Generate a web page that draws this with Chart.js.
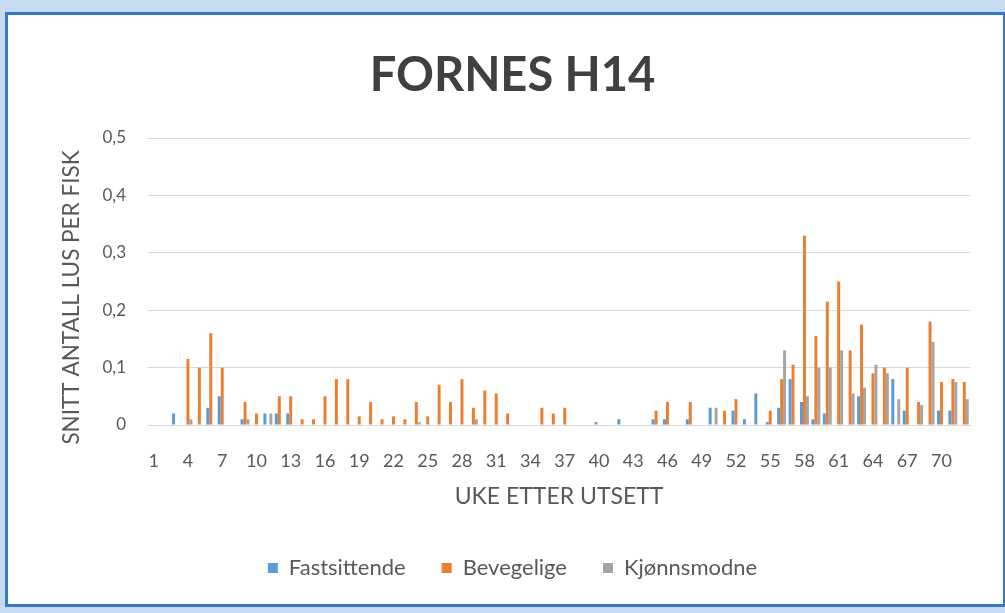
<!DOCTYPE html>
<html>
<head>
<meta charset="utf-8">
<script src="https://cdn.jsdelivr.net/npm/chart.js@4.4.1/dist/chart.umd.min.js"></script>
<style>
  html, body { margin: 0; padding: 0; width: 1005px; height: 613px; overflow: hidden; background: #c6daf0; }
  #frame { position: absolute; left: 5px; top: 12px; width: 1001px; height: 595px; border: 3px solid #3a77c2; background: #ffffff; box-sizing: border-box; }
  #wrap { position: absolute; left: 0; top: 0; width: 1005px; height: 613px; }
</style>
</head>
<body>
<div id="frame"></div>
<div id="wrap"><canvas id="c" width="1005" height="613"></canvas></div>
<script>
const weeks = [];
for (let w = 1; w <= 72; w++) weeks.push(String(w));

const fastsittende = [
  0, 0, 0.02, 0, 0, 0.03, 0.05, 0, 0.01, 0,
  0.02, 0.02, 0.02, 0, 0, 0, 0, 0, 0, 0,
  0, 0, 0, 0, 0, 0, 0, 0, 0, 0,
  0, 0, 0, 0, 0, 0, 0, 0, 0, 0.005,
  0, 0.01, 0, 0, 0.01, 0.01, 0, 0.01, 0, 0.03,
  0, 0.025, 0.01, 0.055, 0.005, 0.03, 0.08, 0.04, 0.01, 0.02,
  0, 0, 0.05, 0, 0, 0.08, 0.025, 0, 0, 0.025,
  0.025, 0
];
const bevegelige = [
  0, 0, 0, 0.115, 0.1, 0.16, 0.1, 0, 0.04, 0.02,
  0, 0.05, 0.05, 0.01, 0.01, 0.05, 0.08, 0.08, 0.015, 0.04,
  0.01, 0.015, 0.01, 0.04, 0.015, 0.07, 0.04, 0.08, 0.03, 0.06,
  0.055, 0.02, 0, 0, 0.03, 0.02, 0.03, 0, 0, 0,
  0, 0, 0, 0, 0.025, 0.04, 0, 0.04, 0, 0,
  0.025, 0.045, 0, 0, 0.025, 0.08, 0.105, 0.33, 0.155, 0.215,
  0.25, 0.13, 0.175, 0.09, 0.1, 0, 0.1, 0.04, 0.18, 0.075,
  0.08, 0.075
];
const kjonnsmodne = [
  0, 0, 0, 0.01, 0, 0, 0, 0, 0.01, 0,
  0.02, 0, 0, 0, 0, 0, 0, 0, 0, 0,
  0, 0, 0, 0.005, 0, 0, 0, 0, 0.01, 0,
  0, 0, 0, 0, 0, 0, 0, 0, 0, 0,
  0, 0, 0, 0, 0, 0, 0, 0, 0, 0.03,
  0, 0, 0, 0, 0, 0.13, 0, 0.05, 0.1, 0.1,
  0.13, 0.055, 0.065, 0.105, 0.09, 0.045, 0, 0.035, 0.145, 0,
  0.075, 0.045
];
const yTicks = [0, 0.1, 0.2, 0.3, 0.4, 0.5];
const yTitle = 'SNITT ANTALL LUS PER FISK';

const FONT = "Lato, 'Open Sans', sans-serif";
const TXT = '#595959';

const yTitlePlugin = {
  id: 'yTitle',
  afterDraw(chart) {
    const ctx = chart.ctx;
    const area = chart.chartArea;
    ctx.save();
    ctx.translate(72, (area.top + area.bottom) / 2 + 16);
    ctx.rotate(-Math.PI / 2);
    ctx.fillStyle = TXT;
    ctx.font = "22.5px " + FONT;
    ctx.textAlign = 'center';
    ctx.textBaseline = 'middle';
    ctx.fillText(yTitle, 0, 0);
    ctx.restore();
  }
};

new Chart(document.getElementById('c'), {
  type: 'bar',
  data: {
    labels: weeks,
    datasets: [
      { label: 'Fastsittende', data: fastsittende, backgroundColor: '#5B9BD5' },
      { label: 'Bevegelige', data: bevegelige, backgroundColor: '#ED7D31' },
      { label: 'Kjønnsmodne', data: kjonnsmodne, backgroundColor: '#A5A5A5' }
    ]
  },
  plugins: [yTitlePlugin],
  options: {
    responsive: false,
    animation: false,
    layout: { padding: { left: 55, right: 35, top: 24, bottom: 24 } },
    datasets: { bar: { categoryPercentage: 0.78, barPercentage: 1.0 } },
    plugins: {
      title: {
        display: true,
        text: 'FORNES H14',
        color: '#404040',
        font: { family: FONT, size: 47, weight: 'bold', lineHeight: 1.2 },
        padding: { top: 24, bottom: 33.6 }
      },
      legend: {
        position: 'bottom',
        labels: {
          color: TXT,
          font: { family: FONT, size: 22 },
          boxWidth: 10,
          boxHeight: 10,
          padding: 36
        }
      },
      tooltip: { enabled: false }
    },
    scales: {
      x: {
        grid: { display: false, drawTicks: false },
        border: { display: true, color: '#d9d9d9' },
        ticks: {
          color: TXT,
          font: { family: FONT, size: 18 },
          autoSkip: false,
          maxRotation: 0,
          padding: 25,
          callback: function(v, i) { return i % 3 === 0 ? weeks[i] : ''; }
        },
        title: {
          display: true,
          text: 'UKE ETTER UTSETT',
          color: TXT,
          font: { family: FONT, size: 23 },
          padding: { top: 4, bottom: 11 }
        },
        afterFit: function(s) { s.height = 96; }
      },
      y: {
        min: 0,
        max: 0.5,
        grid: { color: '#d9d9d9', drawTicks: false },
        border: { display: false },
        afterBuildTicks: function(s) { s.ticks = yTicks.map(v => ({ value: v })); },
        ticks: {
          color: TXT,
          font: { family: FONT, size: 17 },
          padding: 22,
          callback: function(v) { return v === 0 ? '0' : v.toFixed(1).replace('.', ','); }
        },
        title: { display: false },
        afterFit: function(s) { s.width = 93; }
      }
    }
  }
});
</script>
</body>
</html>
